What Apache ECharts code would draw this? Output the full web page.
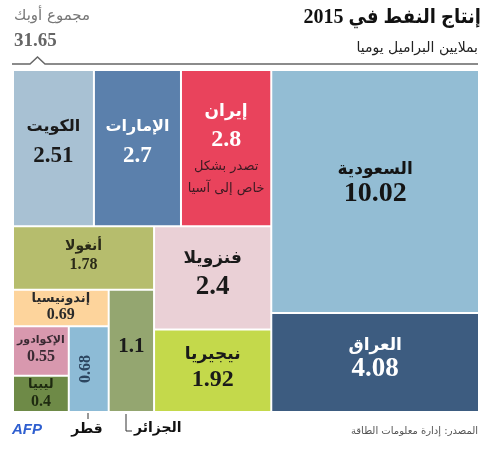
<!DOCTYPE html>
<html>
<head>
<meta charset="utf-8">
<script src="https://cdn.jsdelivr.net/npm/echarts@6/dist/echarts.min.js"></script>
<style>
html, body { margin: 0; padding: 0; background: #fff; }
#main { width: 492px; height: 450px; }
</style>
</head>
<body>
<div id="main"></div>
<script>
// OPEC oil production 2015, million barrels per day
const countries = ['الكويت', 'الإمارات', 'إيران', 'السعودية', 'العراق', 'أنغولا', 'فنزويلا', 'نيجيريا', 'إندونيسيا', 'الجزائر', 'الإكوادور', 'قطر', 'ليبيا'];
const production = [2.51, 2.7, 2.8, 10.02, 4.08, 1.78, 2.4, 1.92, 0.69, 1.1, 0.55, 0.68, 0.4];
const opecTotal = 31.65;
const iranNote = ['تصدر بشكل', 'خاص إلى آسيا'];

// how the tiles are nested (indexes into countries)
const groups = [[[0, 1, 2], [[5, [[8, [[10, 12], 11]], 9]], [6, 7]]], [3, 4]];

// styles per tile
const tileColors = ['#a8c1d3', '#5b80ac', '#e9435c', '#93bdd4', '#3d5c80', '#b6bd6d', '#ead0d6', '#c4d94b', '#fdd49c', '#94a670', '#d898ae', '#8dbbd6', '#6e8a47'];
const textColors = ['#1a1a1a', '#fff', '#fff', '#141414', '#fff', '#2a2a18', '#1a1a1a', '#1a1a1a', '#2a2a2a', '#1a1a1a', '#3a2a33', '#2c4560', '#1e2a10'];
const nameSize = [16, 16, 17, 17, 17, 14, 17, 17, 13, 0, 11, 0, 13];
const valueSize = [23, 23, 24, 28, 27, 16, 27, 24, 16, 21, 16, 16, 16];
const nameLH = [26, 26, 26, 22, 20, 18, 25, 23, 16, 0, 16, 0, 16];
const valueLH = [32, 32, 30, 28, 27, 20, 31, 27, 17, 25, 18, 19, 17];

const ar = '"DejaVu Sans", sans-serif';
const serif = '"Liberation Serif", "DejaVu Serif", serif';

function contentHeight(i) {
  if (!nameSize[i]) return valueLH[i];
  return nameLH[i] + valueLH[i] + (i === 2 ? 24 + 19 : 0);
}

let padTop = {};

function build(g) {
  if (typeof g === 'number') {
    return {
      name: countries[g],
      value: production[g],
      itemStyle: { color: tileColors[g] },
      label: {
        color: textColors[g],
        rotate: g === 11 ? 90 : 0,
        padding: [padTop[g] || 0, 0, 0, 0],
        rich: {
          n: { fontFamily: ar, fontWeight: 'bold', fontSize: nameSize[g] || 12, lineHeight: nameLH[g] || 12 },
          v: { fontFamily: serif, fontWeight: 'bold', fontSize: valueSize[g], lineHeight: valueLH[g] },
          s1: { fontFamily: ar, fontSize: 13, lineHeight: 24, color: '#3b1a22' },
          s: { fontFamily: ar, fontSize: 13, lineHeight: 19, color: '#3b1a22' }
        }
      }
    };
  }
  return { children: g.map(build) };
}

var myChart = echarts.init(document.getElementById('main'));
myChart.setOption({
  animation: false,
  series: [{
    type: 'treemap',
    left: 14, top: 71, width: 464, height: 340,
    sort: false,
    squareRatio: 0.0001,
    roam: false,
    nodeClick: false,
    breadcrumb: { show: false },
    itemStyle: { borderWidth: 0, gapWidth: 2, borderColor: '#fff' },
    upperLabel: { show: false },
    label: {
      show: true,
      position: 'inside',
      align: 'center',
      verticalAlign: 'middle',
      overflow: 'none',
      padding: 0,
      formatter: function (p) {
        const i = countries.indexOf(p.name);
        if (!nameSize[i]) return '{v|' + production[i] + '}';
        let s = '{n|' + p.name + '}\n{v|' + production[i] + '}';
        if (i === 2) s += '\n{s1|' + iranNote[0] + '}\n{s|' + iranNote[1] + '}';
        return s;
      }
    },
    data: groups.map(build)
  }],
  graphic: [
    { type: 'text', right: 11, top: 8, style: { text: 'إنتاج النفط في 2015', font: 'bold 20px ' + serif + ', "DejaVu Sans Condensed", "DejaVu Sans"', fill: '#111' } },
    { type: 'text', right: 14, top: 41, style: { text: 'بملايين البراميل يوميا', font: '14px ' + ar, fill: '#222' } },
    { type: 'text', left: 14, top: 9, style: { text: 'مجموع أوبك', font: '15px ' + ar, fill: '#777' } },
    { type: 'text', left: 14, top: 32, style: { text: String(opecTotal), font: 'bold 19px ' + serif, fill: '#666' } },
    { type: 'polyline', shape: { points: [[12, 64], [30, 64], [37.5, 57], [45, 64], [478, 64]] }, style: { stroke: '#666', lineWidth: 1.5, fill: null } },
    { type: 'line', shape: { x1: 88, y1: 413, x2: 88, y2: 419 }, style: { stroke: '#333', lineWidth: 1 } },
    { type: 'text', x: 87, y: 422, style: { text: countries[11], font: 'bold 14px ' + ar, fill: '#111', textAlign: 'center' } },
    { type: 'polyline', shape: { points: [[126, 414], [126, 431], [132, 431]] }, style: { stroke: '#333', lineWidth: 1, fill: null } },
    { type: 'text', x: 134, y: 421, style: { text: countries[9], font: 'bold 14px ' + ar, fill: '#111', textAlign: 'left' } },
    { type: 'text', x: 12, y: 422, style: { text: 'AFP', font: 'italic bold 15px "Liberation Sans", sans-serif', fill: '#2f5fd0' } },
    { type: 'text', right: 14, top: 426, style: { text: 'المصدر: إدارة معلومات الطاقة', font: '10px ' + ar, fill: '#555' } }
  ]
});

// centre each label in its tile, using the layout the treemap computed
const tdata = myChart.getModel().getSeriesByIndex(0).getData();
for (let k = 0; k < tdata.count(); k++) {
  const i = countries.indexOf(tdata.getName(k));
  const lay = tdata.getItemLayout(k);
  if (i < 0 || !lay) continue;
  const lift = i === 2 ? 0 : lay.height * 0.035;
  padTop[i] = Math.max(0, (lay.height - contentHeight(i)) / 2 - lift);
}
myChart.setOption({ series: [{ data: groups.map(build) }] });
</script>
</body>
</html>
